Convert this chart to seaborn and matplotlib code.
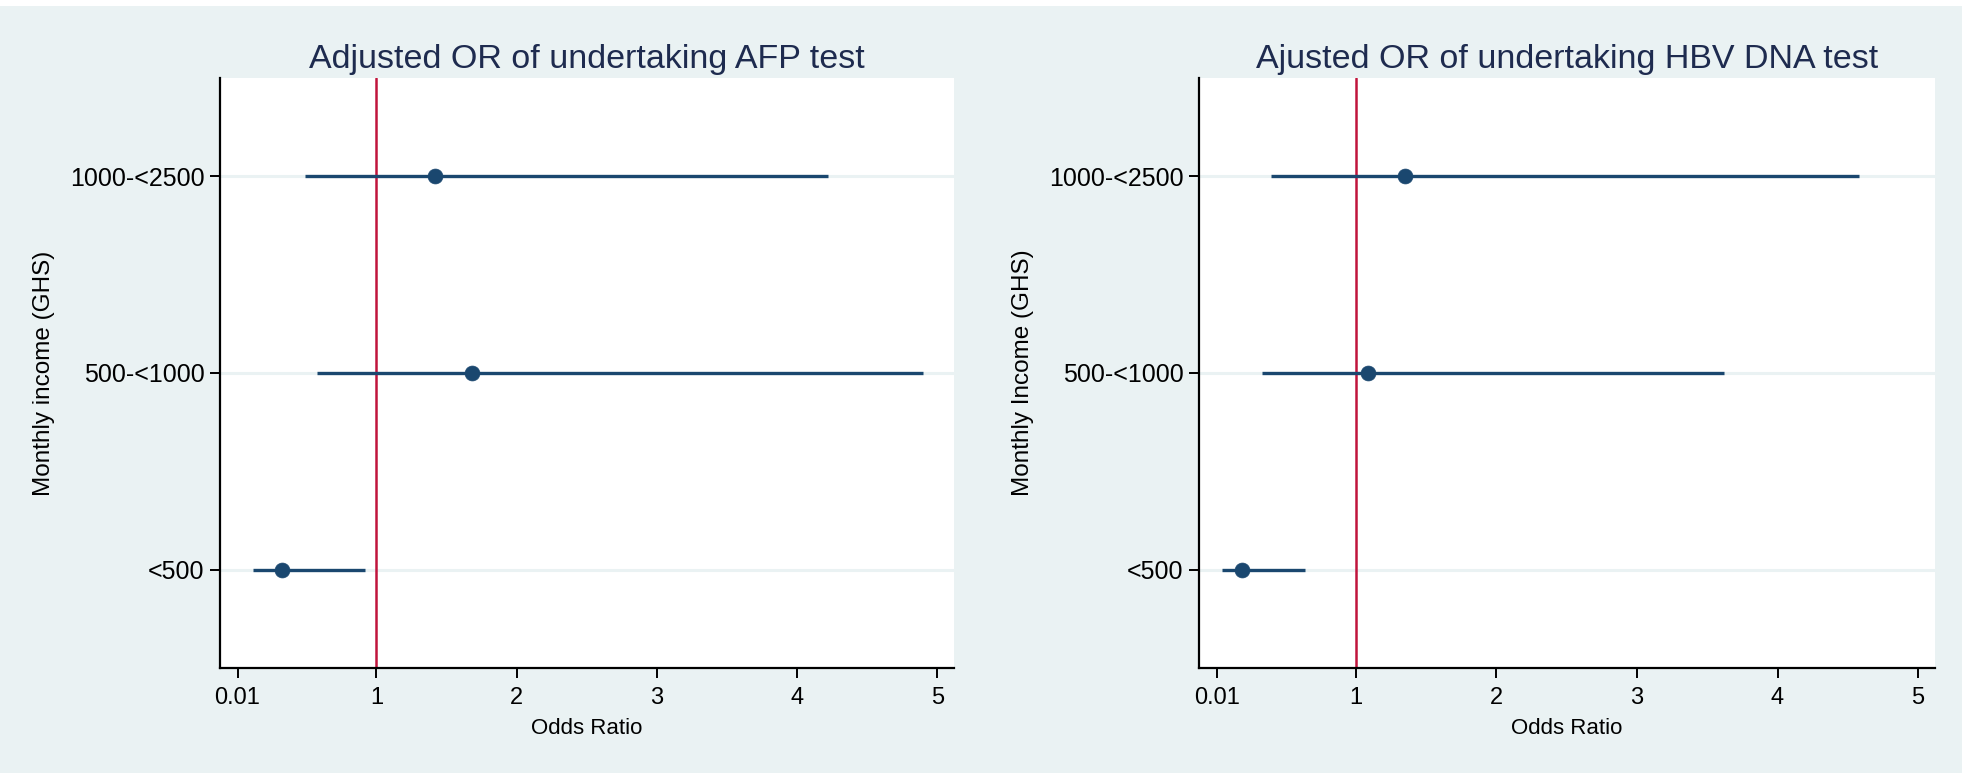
import matplotlib
matplotlib.use("Agg")
import matplotlib.pyplot as plt
from matplotlib import font_manager
from matplotlib.patches import Rectangle
import seaborn as sns
import pandas as pd

# ---- data ----
categories = ["<500", "500-<1000", "1000-<2500"]
afp_or = [0.33, 1.68, 1.42]
afp_lo = [0.12, 0.58, 0.49]
afp_hi = [0.92, 4.90, 4.22]
hbv_or = [0.19, 1.09, 1.35]
hbv_lo = [0.05, 0.33, 0.40]
hbv_hi = [0.64, 3.62, 4.58]
x_ticks = [0.01, 1, 2, 3, 4, 5]
x_tick_labels = ["0.01", "1", "2", "3", "4", "5"]
titles = ["Adjusted OR of undertaking AFP test", "Ajusted OR of undertaking HBV DNA test"]
ylabels = ["Monthly income (GHS)", "Monthly Income (GHS)"]
xlabel = "Odds Ratio"

sns.set_theme(style="white")
names = {f.name for f in font_manager.fontManager.ttflist}
fam = "Liberation Sans Narrow" if "Liberation Sans Narrow" in names else "Liberation Sans"
plt.rcParams["font.family"] = [fam, "DejaVu Sans"]

BG = "#eaf2f3"
NAVY = "#1a476f"
RED = "#c0143c"

W, H = 1969, 773
fig = plt.figure(figsize=(W / 100, H / 100), dpi=100, facecolor="white")
fig.patches.append(Rectangle((0, 0), 1962 / W, 1 - 6 / H, transform=fig.transFigure,
                             facecolor=BG, edgecolor="none", zorder=-10))

def px_axes(l, r, t, b):
    return fig.add_axes([l / W, 1 - b / H, (r - l) / W, (b - t) / H])

axes = [px_axes(220, 954, 78, 668), px_axes(1199, 1935, 78, 668)]
series = [(afp_or, afp_lo, afp_hi), (hbv_or, hbv_lo, hbv_hi)]

for ax, (orv, lo, hi), title, ylab in zip(axes, series, titles, ylabels):
    df = pd.DataFrame({"cat": categories, "or": orv, "lo": lo, "hi": hi})
    ax.set_facecolor("white")
    for i in range(len(categories)):
        ax.axhline(i, color=BG, lw=2.2, zorder=0)
    ax.axvline(1, color=RED, lw=1.8, zorder=1)
    ax.hlines(df["cat"], df["lo"], df["hi"], color=NAVY, lw=2.4, zorder=2)
    sns.scatterplot(data=df, x="or", y="cat", ax=ax, color=NAVY, s=115,
                    edgecolor=NAVY, linewidth=0.5, zorder=3, legend=False)
    ax.set_ylim(-0.5, len(categories) - 0.5)
    ax.set_xlim(-0.115, 5.12)
    ax.set_xticks(x_ticks)
    ax.set_xticklabels(x_tick_labels)
    ax.set_yticks(range(len(categories)))
    ax.set_yticklabels(categories)
    for s in ["top", "right"]:
        ax.spines[s].set_visible(False)
    for s in ["left", "bottom"]:
        ax.spines[s].set_color("black")
        ax.spines[s].set_linewidth(1.6)
    ax.tick_params(axis="both", direction="out", length=7, width=1.4, color="black",
                   labelcolor="black", left=True, bottom=True)
    ax.tick_params(axis="y", labelsize=18, pad=4)
    ax.tick_params(axis="x", labelsize=17, pad=7)
    ax.set_xlabel(xlabel, fontsize=16, color="black", labelpad=6)
    ax.set_ylabel(ylab, fontsize=17.5, color="black", labelpad=11)
    ax.set_title(title, fontsize=24.5, color="#1e2b4f", pad=7)

fig.savefig("out.png", dpi=100, facecolor=fig.get_facecolor())
